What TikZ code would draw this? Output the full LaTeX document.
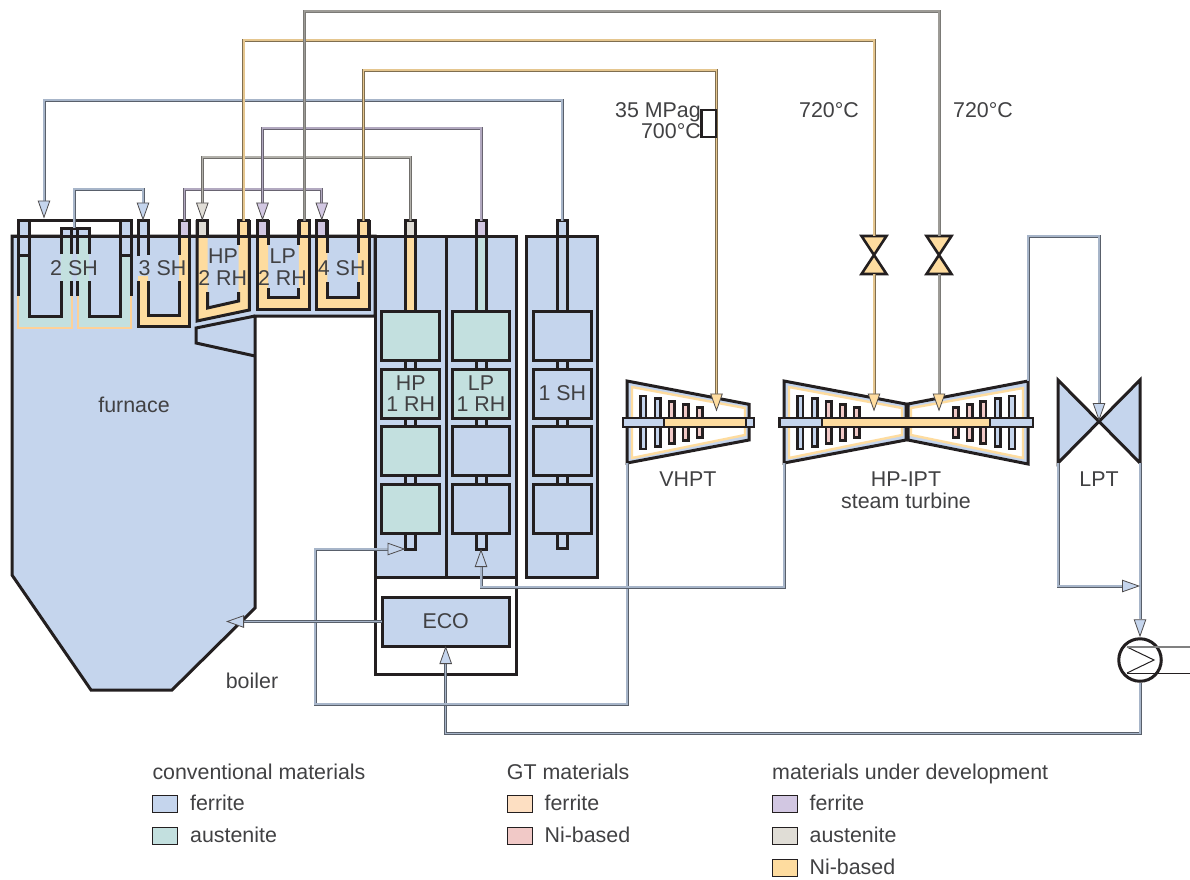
\documentclass[tikz,border=0pt]{standalone}
\usepackage{fontspec}
\setmainfont{Liberation Sans}
\usetikzlibrary{positioning,arrows.meta}

\definecolor{cblue}{HTML}{C5D5ED}
\definecolor{cteal}{HTML}{C3E0DF}
\definecolor{corange}{HTML}{FEDC9F}
\definecolor{cpurple}{HTML}{D2C7E2}
\definecolor{cstone}{HTML}{E0DDD6}
\definecolor{cpeach}{HTML}{FDDFC2}
\definecolor{cpink}{HTML}{F1C9C7}
\definecolor{cblack}{HTML}{231F20}
\definecolor{ctext}{HTML}{414143}

\begin{document}
\begin{tikzpicture}[x=1pt, y=-1pt,
    wall/.style={draw=cblack, line width=3pt, line join=miter},
    thinwall/.style={draw=cblack, line width=1pt},
    capbox/.style={draw=cblack, line width=3pt, minimum width=10pt, minimum height=15.5pt,
                   inner sep=0pt, outer sep=0pt},
    tubeend/.style={capbox, fill=cblue, minimum height=18pt},
    bank/.style={draw=cblack, line width=3pt, minimum width=57.5pt, minimum height=49pt,
                 inner sep=0pt, outer sep=0pt, align=center, text=ctext,
                 font=\fontsize{21.4}{21.5}\selectfont},
    blade/.style={draw=cblack, line width=2.4pt, minimum width=5.6pt, inner sep=0pt},
    shaft/.style={draw=cblack, line width=2.4pt, minimum height=9.2pt, inner sep=0pt},
    lab/.style={text=ctext, inner sep=0pt, anchor=base, font=\fontsize{21.4}{24}\selectfont},
    swatch/.style={draw=cblack, line width=.8pt, minimum width=25pt, minimum height=17pt, inner sep=0pt},
    swatchlab/.style={lab, anchor=west, text height=14.8pt, text depth=0pt},
    pipeblue/.style={draw=black!55!cblue, line width=.9pt, double=cblue!85!black, double distance=1.2pt},
    pipetan/.style={draw=black!50!corange, line width=.9pt, double=corange!90!black, double distance=1.2pt},
    pipetaupe/.style={draw=black!45!cstone, line width=.9pt, double=cstone!70!black, double distance=1.2pt},
    pipestone/.style={draw=black!50!cstone, line width=.9pt, double=cstone!80!black, double distance=1.2pt},
    pipepurple/.style={draw=black!50!cpurple, line width=.9pt, double=cpurple!85!black, double distance=1.2pt},
    headblue/.style={-{Triangle[length=18pt,width=12.5pt,color=cblack!80,fill=cblue,line width=.8pt]}},
    headtan/.style={-{Triangle[length=18pt,width=12.5pt,color=cblack!80,fill=corange,line width=.8pt]}},
    headstone/.style={-{Triangle[length=18pt,width=12.5pt,color=cblack!80,fill=cstone,line width=.8pt]}},
    headpurple/.style={-{Triangle[length=18pt,width=12.5pt,color=cblack!80,fill=cpurple,line width=.8pt]}}]

  \useasboundingbox (0,0) rectangle (1190,879);

  % ---- boiler shell, nose and the three columns
  \draw[wall, fill=cblue] (12,236) -- (12,575) -- (91,690) -- (172,690) -- (255,608)
    -- (255,316) -- (375,316) -- (375,236) -- cycle;
  \draw[wall] (255,316) -- (196,328) -- (196,343) -- (255,356);
  \draw[wall, fill=white] (375,577) rectangle (516.7,674);
  \draw[wall, fill=cblue] (375,236) rectangle (446,577);
  \draw[wall, fill=cblue] (446,236) rectangle (516.7,577);
  \draw[wall, fill=cblue] (526.7,236) rectangle (597.7,577);

  % ---- 2 SH
  \fill[cblue] (18,220) rectangle (29,255);
  \fill[cblue] (120,220) rectangle (131,255);
  \fill[cblue] (61,228) rectangle (89,236);
  \fill[cteal] (17,255) -- (17,328) -- (72,328) -- (72,236) -- (61,236) -- (61,316) -- (29,316) -- (29,255) -- cycle;
  \fill[cteal] (77,236) -- (77,328) -- (131.5,328) -- (131.5,255) -- (120,255) -- (120,316) -- (89,316) -- (89,236) -- cycle;
  \draw[corange!95!red, line width=2pt] (17.5,296) |- (71.5,327.5) -- (71.5,296);
  \draw[corange!95!red, line width=2pt] (77.5,296) |- (131,327.5) -- (131,296);
  \draw[wall] (18,296) -- (18,220) -- (131,220) -- (131,296);
  \draw[wall] (18,255) -- (29,255);
  \draw[wall] (120,255) -- (131,255);
  \draw[wall] (29,220) -- (29,316) -- (61,316) -- (61,281);
  \draw[wall] (61,254) -- (61,228) -- (89,228) -- (89,254);
  \draw[wall] (89,281) -- (89,316) -- (120,316) -- (120,220);
  \draw[wall] (71.3,228) -- (71.3,254);
  \draw[wall] (77.3,228) -- (77.3,254);
  \draw[wall] (71.3,281) -- (71.3,296);
  \draw[wall] (77.3,281) -- (77.3,296);

  % ---- 3 SH
  \fill[corange] (138,276) -- (138,326.5) -- (189.5,326.5) -- (189.5,236) -- (179,236) -- (179,315) -- (148,315) -- (148,276) -- cycle;
  \draw[wall] (138,220) -- (138,256);
  \draw[wall] (138,281) -- (138,326.5) -- (189.5,326.5) -- (189.5,220);
  \draw[wall] (148,220) -- (148,255);
  \draw[wall] (148,281) -- (148,315) -- (179,315) -- (179,281);
  \draw[wall] (179,220) -- (179,255);

  % ---- HP 2 RH
  \fill[corange] (197,236) -- (197,321) -- (249.3,310) -- (249.3,236) -- (238.5,236) -- (238.5,301) -- (207.5,308) -- (207.5,236) -- cycle;
  \draw[wall] (197,220) -- (197,321) -- (249.3,310) -- (249.3,220);
  \draw[wall] (207.5,220) -- (207.5,238);
  \draw[wall] (238.5,220) -- (238.5,245);
  \draw[wall] (207.5,292) -- (207.5,308) -- (238.5,301) -- (238.5,292);

  % ---- LP 2 RH
  \fill[corange] (257,236) -- (257,309.5) -- (309.5,309.5) -- (309.5,236) -- (298.8,236) -- (298.8,297) -- (268,297) -- (268,236) -- cycle;
  \draw[wall] (257,220) -- (257,309.5) -- (309.5,309.5) -- (309.5,220);
  \draw[wall] (268,220) -- (268,245);
  \draw[wall] (298.8,220) -- (298.8,245);
  \draw[wall] (268,288) -- (268,297) -- (298.8,297) -- (298.8,288);

  % ---- 4 SH
  \fill[corange] (316.3,236) -- (316.3,309.5) -- (369,309.5) -- (369,236) -- (358,236) -- (358,297) -- (327.3,297) -- (327.3,236) -- cycle;
  \draw[wall] (316.3,220) -- (316.3,309.5) -- (369,309.5) -- (369,220);
  \draw[wall] (327.3,220) -- (327.3,253);
  \draw[wall] (358,220) -- (358,253);
  \draw[wall] (327.3,282) -- (327.3,297) -- (358,297) -- (358,282);
  \draw[wall] (12,236) -- (375,236);

  % ---- tubes behind the banks
  \draw[wall, fill=corange] (405.5,236) rectangle (415.5,312);
  \draw[wall, fill=cteal] (476,236) rectangle (486,312);
  \draw[wall, fill=cblue] (557,236) rectangle (567,312);
  \draw[wall, fill=cblue] (405.5,355) rectangle (415.5,490);
  \draw[wall, fill=cblue] (476,355) rectangle (486,490);
  \draw[wall, fill=cblue] (557,355) rectangle (567,490);
  \node[tubeend] (hpend) at (410.5,540) {};
  \node[tubeend] (lpend) at (481,540) {};
  \node[tubeend] (shend) at (562,539) {};

  % ---- tube banks
  \node[bank, fill=cteal] (hpbanka) at (410.7,336) {};
  \node[bank, fill=cteal] (hpbankb) at (410.7,393.5) {HP\\1 RH};
  \node[bank, fill=cteal] (hpbankc) at (410.7,451) {};
  \node[bank, fill=cteal] (hpbankd) at (410.7,509) {};
  \node[bank, fill=cteal] (lpbanka) at (481,336) {};
  \node[bank, fill=cteal] (lpbankb) at (481,393.5) {LP\\1 RH};
  \node[bank, fill=cblue] (lpbankc) at (481,451) {};
  \node[bank, fill=cblue] (lpbankd) at (481,509) {};
  \node[bank, fill=cblue] (shbanka) at (562.3,336) {};
  \node[bank, fill=cblue] (shbankb) at (562.3,393.5) {1 SH};
  \node[bank, fill=cblue] (shbankc) at (562.3,451) {};
  \node[bank, fill=cblue] (shbankd) at (562.3,509) {};
  \node[bank, fill=cblue, minimum width=127pt] (eco) at (445.7,621.5) {ECO};

  % ---- VHPT
  \draw[wall, fill=cblue] (627,381) coordinate (vhptin) -- (749,404.3) -- (749,440) -- (627,463) coordinate (vhptout) -- cycle;
  \draw[draw=corange, line width=2.4pt, fill=white] (632,387) -- (745,408) -- (745,435) -- (632,458) -- cycle;
  \node[blade, fill=cblue, minimum height=53pt] (va) at (643.3,422.5) {};
  \node[blade, fill=cblue, minimum height=48pt] (vb) at (657.7,422.5) {};
  \node[blade, fill=cpink, minimum height=42pt] (vc) at (671.7,422.5) {};
  \node[blade, fill=cpink, minimum height=36pt] (vd) at (685.7,422.5) {};
  \node[blade, fill=cpink, minimum height=30pt] (ve) at (699.7,422.5) {};
  \node[shaft, fill=cblue, minimum width=41pt] (vshaftl) at (643.5,422.5) {};
  \node[shaft, fill=corange, minimum width=82pt] (vshaft) at (705,422.5) {};
  \node[shaft, fill=cblue, minimum width=8pt] (vshaftr) at (750,422.5) {};

  % ---- HP-IPT
  \draw[wall, fill=cblue] (784,381) -- (906,404) -- (906,440) -- (784,463) coordinate (hpout) -- cycle;
  \draw[wall, fill=cblue] (1028,381) coordinate (ipout) -- (908,404) -- (908,440) -- (1028,464) -- cycle;
  \draw[draw=corange, line width=2.4pt, fill=white] (789,387) -- (902,408) -- (902,435) -- (789,458) -- cycle;
  \draw[draw=corange, line width=2.4pt, fill=white] (1023,388) -- (911,408) -- (911,435) -- (1023,458) -- cycle;
  \node[blade, fill=cblue, minimum height=53pt] (ha) at (800.3,422.5) {};
  \node[blade, fill=cblue, minimum height=48pt] (hb) at (814.7,422.5) {};
  \node[blade, fill=cpink, minimum height=42pt] (hc) at (828.7,422.5) {};
  \node[blade, fill=cpink, minimum height=36pt] (hd) at (842.7,422.5) {};
  \node[blade, fill=cpink, minimum height=30pt] (he) at (856.7,422.5) {};
  \node[blade, fill=cpink, minimum height=30pt] (ia) at (955.7,422.5) {};
  \node[blade, fill=cpink, minimum height=36pt] (ib) at (969.5,422.5) {};
  \node[blade, fill=cpink, minimum height=42pt] (ic) at (983.3,422.5) {};
  \node[blade, fill=cblue, minimum height=48pt] (id) at (997.7,422.5) {};
  \node[blade, fill=cblue, minimum height=53pt] (ie) at (1012,422.5) {};
  \node[shaft, fill=cblue, minimum width=42.5pt] (hshaftl) at (800.75,422.5) {};
  \node[shaft, fill=corange, minimum width=168pt] (hshaft) at (906,422.5) {};
  \node[shaft, fill=cblue, minimum width=43pt] (hshaftr) at (1011.5,422.5) {};

  % ---- LPT, valves, condenser
  \draw[wall, fill=cblue] (1058,380) -- (1140,463) coordinate (lptr) -- (1140,380) -- (1058,463) coordinate (lptl) -- cycle;
  \draw[wall, line width=2.6pt, fill=corange] (861.5,236) -- (886.5,236) -- (861.5,274) -- (886.5,274) -- cycle;
  \draw[wall, line width=2.6pt, fill=corange] (926.5,236) -- (951.5,236) -- (926.5,274) -- (951.5,274) -- cycle;
  \coordinate (valveatop) at (874,236);
  \coordinate (valveabot) at (874,274);
  \coordinate (valvebtop) at (939,236);
  \coordinate (valvebbot) at (939,274);
  \coordinate (vhpthead) at (716.5,411.5);
  \coordinate (hphead) at (874,411.5);
  \coordinate (iphead) at (939,411.5);
  \coordinate (lpthead) at (1099,421);
  \coordinate (cwjoin) at (1140,586);
  \coordinate (furnacehead) at (226,621.5);
  \node[draw=cblack, line width=3pt, circle, fill=white, minimum size=42.5pt, inner sep=0pt, outer sep=1.5pt] (condenser) at (1140,660) {};
  \coordinate (coola) at (1127,647);
  \coordinate (coolb) at (1154,660);
  \coordinate (coolc) at (1127,673);
  \coordinate (coolaout) at (1190,647);
  \coordinate (coolcout) at (1190,673);
  \draw[thinwall] (coola) -- (coolb) -- (coolc);
  \draw[draw=black!50, line width=1.2pt] (coola) -- (coolaout);
  \draw[thinwall] (coolc) -- (coolcout);

  % ---- header caps, then the steam lines
  \coordinate (shtwoin) at (44,218.5);
  \coordinate (shtwoout) at (74,228);
  \node[capbox, fill=cblue] (shthreein) at (143,228.3) {};
  \node[capbox, fill=cpurple] (shthreeout) at (184.3,228.3) {};
  \node[capbox, fill=cstone] (rhhpin) at (202.3,228.3) {};
  \node[capbox, fill=corange] (rhhpout) at (243.9,228.3) {};
  \node[capbox, fill=cpurple] (rhlpin) at (262.5,228.3) {};
  \node[capbox, fill=corange] (rhlpout) at (304.2,228.3) {};
  \node[capbox, fill=cpurple] (shfourin) at (321.8,228.3) {};
  \node[capbox, fill=corange] (shfourout) at (363.5,228.3) {};
  \node[capbox, fill=cstone] (hpcap) at (410.5,228.3) {};
  \node[capbox, fill=cpurple] (lpcap) at (481,228.3) {};
  \node[capbox, fill=cblue] (shcap) at (562,228.3) {};

  \draw[pipeblue, headblue] (shcap.north) -- ++(0,-120.5) -| (shtwoin);
  \draw[pipeblue, headblue] (shtwoout) -- ++(0,-39) -| (shthreein.north);
  \draw[pipepurple, headpurple] (shthreeout.north) -- ++(0,-31.5) -| (shfourin.north);
  \draw[pipestone, headstone] (hpcap.north) -- ++(0,-63.5) -| (rhhpin.north);
  \draw[pipepurple, headpurple] (lpcap.north) -- ++(0,-92.5) -| (rhlpin.north);
  \draw[pipetan, headtan] (shfourout.north) -- ++(0,-150.5) -| (vhpthead);
  \draw[pipetan] (rhhpout.north) -- ++(0,-180.5) -| (valveatop);
  \draw[pipetaupe] (rhlpout.north) -- ++(0,-209.5) -| (valvebtop);
  \draw[pipetan, headtan] (valveabot) -- (hphead);
  \draw[pipetaupe, headtan] (valvebbot) -- (iphead);
  \draw[pipeblue, headblue] (ipout) -- ++(0,-145) -| (lpthead);
  \draw[pipeblue, headblue] (lptr) -- (condenser.north);
  \draw[pipeblue, headblue] (lptl) -- ++(0,123) -- (cwjoin);
  \draw[pipeblue, headblue] (condenser.south) -- ++(0,51) -| (eco.south);
  \draw[pipeblue, headblue] (vhptout) -- ++(0,241) -- ++(-312,0) |- (hpend.south west);
  \draw[pipeblue, headblue] (hpout) -- ++(0,124) -| (lpend.south);
  \draw[pipeblue, headblue] (eco.west) -- (furnacehead);

  \node[draw=cblack, line width=2.6pt, fill=white, minimum width=14.3pt, minimum height=27pt, inner sep=0pt] (pressbox) at (708.7,123.3) {};

  % ---- labels
  \node[lab] (shtwolab) at (74,275) {2 SH};
  \node[lab] (shthreelab) at (162.5,275) {3 SH};
  \node[lab] (hptoplab) at (223,263.3) {HP};
  \node[lab] (hpbotlab) at (222.7,285) {2 RH};
  \node[lab] (lptoplab) at (282.7,263.3) {LP};
  \node[lab] (lpbotlab) at (282.5,285) {2 RH};
  \node[lab] (shfourlab) at (341.7,275) {4 SH};
  \node[lab] (furnacelab) at (134,412) {furnace};
  \node[lab] (boilerlab) at (252,688) {boiler};
  \node[lab, anchor=base east] (presslab) at (701,117) {35 MPag};
  \node[lab, anchor=base east] (templab) at (701,138) {700°C};
  \node[lab] (tempa) at (829,117) {720°C};
  \node[lab] (tempb) at (983,117) {720°C};
  \node[lab] (vhptlab) at (688,486) {VHPT};
  \node[lab] (hplab) at (906,486) {HP-IPT};
  \node[lab] (turbinelab) at (906,508) {steam turbine};
  \node[lab] (lptlab) at (1099,486) {LPT};

  % ---- key
  \node[lab, anchor=base west] (keya) at (152.3,779) {conventional materials};
  \node[swatch, fill=cblue] (keyaf) at (165,803.5) {};
  \node[swatchlab, right=12pt of keyaf] (keyaflab) {ferrite};
  \node[swatch, fill=cteal] (keyas) at (165,835.5) {};
  \node[swatchlab, right=12pt of keyas] (keyaslab) {austenite};

  \node[lab, anchor=base west] (keyb) at (506.7,779) {GT materials};
  \node[swatch, fill=cpeach] (keybf) at (519.5,803.5) {};
  \node[swatchlab, right=12pt of keybf] (keybflab) {ferrite};
  \node[swatch, fill=cpink] (keybn) at (519.5,835.5) {};
  \node[swatchlab, right=12pt of keybn] (keybnlab) {Ni-based};

  \node[lab, anchor=base west] (keyc) at (772,779) {materials under development};
  \node[swatch, fill=cpurple] (keycf) at (784.5,803.5) {};
  \node[swatchlab, right=12pt of keycf] (keycflab) {ferrite};
  \node[swatch, fill=cstone] (keycs) at (784.5,835.5) {};
  \node[swatchlab, right=12pt of keycs] (keycslab) {austenite};
  \node[swatch, fill=corange] (keycn) at (784.5,867.5) {};
  \node[swatchlab, right=12pt of keycn] (keycnlab) {Ni-based};
\end{tikzpicture}
\end{document}
